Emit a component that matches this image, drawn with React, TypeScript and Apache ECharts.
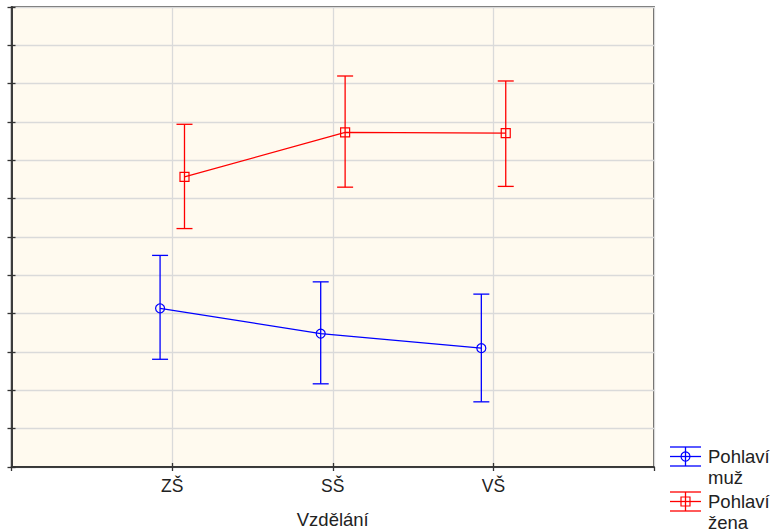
import React, { useEffect, useRef } from "react";
import * as echarts from "echarts";

const categories = ["ZŠ", "SŠ", "VŠ"];
const categoryPositions = [1, 2, 3];
const xAxisName = "Vzdělání";

const muzMean = [4.14, 3.48, 3.1];
const muzLow = [2.81, 2.17, 1.7];
const muzHigh = [5.52, 4.83, 4.51];

const zenaMean = [7.57, 8.73, 8.71];
const zenaLow = [6.22, 7.3, 7.32];
const zenaHigh = [8.94, 10.2, 10.07];

const legendLines = [
  ["Pohlaví", "muž"],
  ["Pohlaví", "žena"],
];

const BLUE = "#0000ff";
const RED = "#ff0000";
const FONT = "Liberation Sans, Arial, sans-serif";
const TEXT = "#222222";

function errorSeries(
  name: string,
  offset: number,
  mean: number[],
  low: number[],
  high: number[],
  color: string,
  marker: "circle" | "square"
) {
  const data = categoryPositions.map((p, i) => [p + offset, mean[i], low[i], high[i]]);
  return {
    type: "custom",
    name: name + "-err",
    xAxisIndex: 0,
    yAxisIndex: 0,
    z: 5,
    silent: true,
    data,
    renderItem: (params: any, api: any) => {
      const x = api.value(0);
      const m = api.coord([x, api.value(1)]);
      const lo = api.coord([x, api.value(2)]);
      const hi = api.coord([x, api.value(3)]);
      const cw = 8;
      const ls = { stroke: color, lineWidth: 1.3 };
      const children: any[] = [
        { type: "line", shape: { x1: hi[0], y1: hi[1], x2: lo[0], y2: lo[1] }, style: ls },
        { type: "line", shape: { x1: hi[0] - cw, y1: hi[1], x2: hi[0] + cw, y2: hi[1] }, style: ls },
        { type: "line", shape: { x1: lo[0] - cw, y1: lo[1], x2: lo[0] + cw, y2: lo[1] }, style: ls },
      ];
      if (marker === "circle") {
        children.push({
          type: "circle",
          shape: { cx: m[0], cy: m[1], r: 4.5 },
          style: { stroke: color, fill: "none", lineWidth: 1.2 },
        });
      } else {
        children.push({
          type: "rect",
          shape: { x: m[0] - 4.5, y: m[1] - 4.5, width: 9, height: 9 },
          style: { stroke: color, fill: "none", lineWidth: 1.2 },
        });
      }
      return { type: "group", children };
    },
  };
}

function legendGraphic(top: number, color: string, marker: "circle" | "square", lines: string[]) {
  const x1 = 670;
  const x2 = 701;
  const cx = 685.5;
  const yTop = top;
  const yMid = top + 9.5;
  const yBot = top + 19;
  const ls = { stroke: color, lineWidth: 1.3 };
  const children: any[] = [
    { type: "line", shape: { x1, y1: yTop, x2, y2: yTop }, style: ls },
    { type: "line", shape: { x1, y1: yMid, x2, y2: yMid }, style: ls },
    { type: "line", shape: { x1, y1: yBot, x2, y2: yBot }, style: ls },
    { type: "line", shape: { x1: cx, y1: yTop, x2: cx, y2: yBot }, style: ls },
    marker === "circle"
      ? { type: "circle", shape: { cx, cy: yMid, r: 4.5 }, style: { stroke: color, fill: "none", lineWidth: 1.2 } }
      : { type: "rect", shape: { x: cx - 4.5, y: yMid - 4.5, width: 9, height: 9 }, style: { stroke: color, fill: "none", lineWidth: 1.2 } },
  ];
  lines.forEach((t, i) => {
    children.push({
      type: "text",
      x: 708,
      y: yMid + i * 20.5,
      style: { text: t, fill: TEXT, font: `18.5px ${FONT}`, verticalAlign: "middle", align: "left" },
    });
  });
  return { type: "group", children };
}

export default function App() {
  const ref = useRef<HTMLDivElement>(null);
  useEffect(() => {
    if (!ref.current) return;
    const chart = echarts.init(ref.current, undefined, { renderer: "svg" });
    const gridLine = { show: true, lineStyle: { color: "#dadada", width: 1.3 } };
    const axisLine = { show: true, lineStyle: { color: "#333333", width: 1.5 } };
    const ticks = { show: true, inside: true, length: 4, lineStyle: { color: "#333333", width: 1.3 } };
    chart.setOption({
      animation: false,
      backgroundColor: "#ffffff",
      grid: {
        left: 11.5,
        right: 129,
        top: 7,
        bottom: 63,
        show: true,
        backgroundColor: "#fffaef",
        borderColor: "#333333",
        borderWidth: 1.5,
        containLabel: false,
        outerBoundsMode: "none",
      },
      xAxis: [
        {
          type: "value",
          min: 0,
          max: 4,
          interval: 1,
          position: "bottom",
          axisLine,
          axisTick: ticks,
          splitLine: gridLine,
          axisLabel: {
            margin: 10,
            fontSize: 17.5,
            fontFamily: FONT,
            color: TEXT,
            showMinLabel: false,
            showMaxLabel: false,
            formatter: (v: number) => {
              const i = categoryPositions.indexOf(v);
              return i >= 0 ? categories[i] : "";
            },
          },
          name: xAxisName,
          nameLocation: "middle",
          nameGap: 43,
          nameTextStyle: { fontSize: 18.5, fontFamily: FONT, color: TEXT },
        },
        {
          type: "value",
          min: 0,
          max: 4,
          interval: 1,
          position: "top",
          axisLine,
          axisTick: ticks,
          splitLine: { show: false },
          axisLabel: { show: false },
        },
      ],
      yAxis: [
        {
          type: "value",
          min: 0,
          max: 12,
          interval: 1,
          position: "left",
          axisLine,
          axisTick: ticks,
          splitLine: gridLine,
          axisLabel: { show: false },
        },
        {
          type: "value",
          min: 0,
          max: 12,
          interval: 1,
          position: "right",
          axisLine,
          axisTick: ticks,
          splitLine: { show: false },
          axisLabel: { show: false },
        },
      ],
      series: [
        {
          type: "line",
          name: "muž",
          xAxisIndex: 0,
          yAxisIndex: 0,
          data: categoryPositions.map((p, i) => [p - 0.075, muzMean[i]]),
          symbol: "none",
          lineStyle: { color: BLUE, width: 1.2 },
          z: 4,
          silent: true,
        },
        {
          type: "line",
          name: "žena",
          xAxisIndex: 0,
          yAxisIndex: 0,
          data: categoryPositions.map((p, i) => [p + 0.077, zenaMean[i]]),
          symbol: "none",
          lineStyle: { color: RED, width: 1.2 },
          z: 4,
          silent: true,
        },
        errorSeries("muž", -0.075, muzMean, muzLow, muzHigh, BLUE, "circle"),
        errorSeries("žena", 0.077, zenaMean, zenaLow, zenaHigh, RED, "square"),
      ],
      graphic: [
        legendGraphic(447, BLUE, "circle", legendLines[0]),
        legendGraphic(492, RED, "square", legendLines[1]),
      ],
    });
    return () => chart.dispose();
  }, []);
  return (
    <div
      ref={ref}
      style={{ position: "absolute", left: 0, top: 0, width: 783, height: 530 }}
    />
  );
}
